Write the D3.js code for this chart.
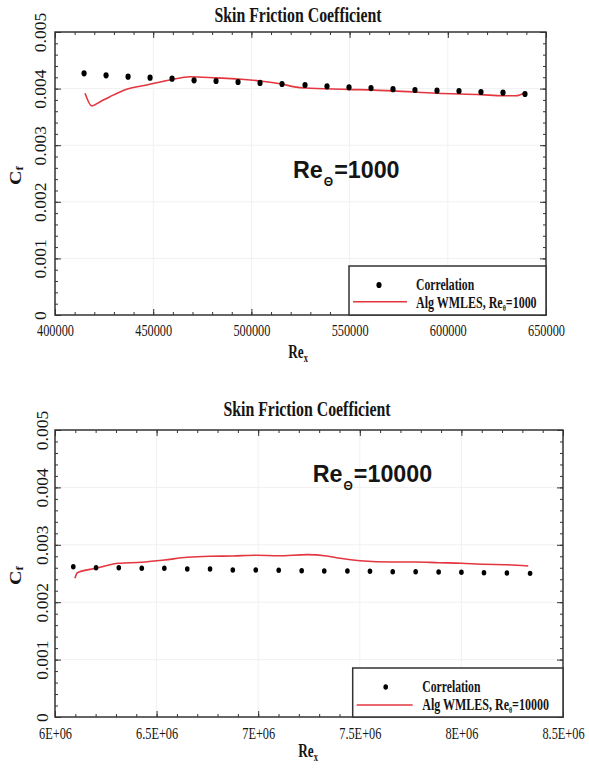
<!DOCTYPE html>
<html>
<head>
<meta charset="utf-8">
<script src="https://cdn.jsdelivr.net/npm/d3@7"></script>
<style>
  html, body { margin: 0; padding: 0; background: #fff; }
  svg { display: block; }
</style>
</head>
<body>
<script>
// ---- Re_theta = 1000 case ----
const corr1Rex = [414800, 426000, 437200, 448400, 459600, 470800, 482000, 493200, 504400, 515600,
                  527300, 538500, 549700, 560900, 572100, 583300, 594500, 605700, 616900, 628100, 639300];
const corr1Cf  = [0.00427, 0.004235, 0.00421, 0.004193, 0.004175, 0.004147, 0.004134, 0.004117, 0.0041, 0.004081,
                  0.004064, 0.00404, 0.004023, 0.00401, 0.00399, 0.003975, 0.003963, 0.003958, 0.00394, 0.003928, 0.003905];
const les1Rex  = [415300, 418700, 423000, 428000, 436500, 446700, 458600, 468700, 482000, 493200,
                  504400, 515600, 522000, 527300, 549700, 572100, 594500, 616900, 628100, 634700, 639300];
const les1Cf   = [0.003917, 0.003693, 0.003769, 0.003857, 0.003988, 0.004064, 0.004152, 0.00421, 0.00419, 0.00417,
                  0.004134, 0.00408, 0.00403, 0.00401, 0.003987, 0.00396, 0.003917, 0.003893, 0.003875, 0.003875, 0.003928];

// ---- Re_theta = 10000 case ----
const corr2Rex = [6.090e6, 6.202e6, 6.314e6, 6.427e6, 6.538e6, 6.651e6, 6.763e6, 6.875e6, 6.988e6, 7.101e6,
                  7.214e6, 7.325e6, 7.439e6, 7.550e6, 7.662e6, 7.775e6, 7.888e6, 8.000e6, 8.111e6, 8.224e6, 8.338e6];
const corr2Cf  = [0.002618, 0.002601, 0.002601, 0.002591, 0.002591, 0.002578, 0.002578, 0.002561, 0.002561, 0.002556,
                  0.002549, 0.002544, 0.002544, 0.002538, 0.002531, 0.002531, 0.002526, 0.002521, 0.002514, 0.002509, 0.002503];
const les2Rex  = [6.098e6, 6.110e6, 6.202e6, 6.314e6, 6.427e6, 6.538e6, 6.651e6, 6.763e6, 6.875e6, 6.988e6, 7.101e6,
                  7.239e6, 7.337e6, 7.403e6, 7.501e6, 7.662e6, 7.775e6, 7.888e6, 8.000e6, 8.111e6, 8.224e6, 8.329e6];
const les2Cf   = [0.002416, 0.002514, 0.002591, 0.002678, 0.002695, 0.002735, 0.002782, 0.0028, 0.002805, 0.002817, 0.00281,
                  0.002828, 0.002805, 0.002765, 0.002723, 0.0027, 0.0027, 0.002688, 0.002678, 0.00266, 0.002653, 0.002631];

// ---- axis ticks ----
const cfTicks   = [0, 0.001, 0.002, 0.003, 0.004, 0.005];
const cfLabels  = ["0", "0.001", "0.002", "0.003", "0.004", "0.005"];
const rex1Ticks = [400000, 450000, 500000, 550000, 600000, 650000];
const rex1Labels = ["400000", "450000", "500000", "550000", "600000", "650000"];
const rex2Ticks = [6e6, 6.5e6, 7e6, 7.5e6, 8e6, 8.5e6];
const rex2Labels = ["6E+06", "6.5E+06", "7E+06", "7.5E+06", "8E+06", "8.5E+06"];

const W = 589, H = 768;
const SERIF = "'Liberation Serif', 'Times New Roman', serif";
const SANS = "'Liberation Sans', Arial, sans-serif";
const RED = "#e3363f";
const INK = "#151515";
const FRAME = "#333";

const svg = d3.select("body").append("svg")
  .attr("width", W).attr("height", H)
  .style("font-family", SERIF);

// text helper: placed with translate/rotate/scale so narrow faces can be emulated
function label(parent, x, y, opts) {
  return parent.append("text")
    .attr("transform", `translate(${x},${y}) rotate(${opts.rotate || 0}) scale(${opts.sx || 1},${opts.sy || 1})`)
    .attr("text-anchor", opts.anchor || "start")
    .style("font-family", opts.family || SERIF)
    .style("font-size", opts.size + "px")
    .style("font-weight", opts.weight || "normal")
    .attr("fill", INK);
}

function drawPanel(p) {
  const x = d3.scaleLinear().domain(p.xDomain).range([p.left, p.right]);
  const y = d3.scaleLinear().domain([0, 0.005]).range([p.bottom, p.top]);
  const g = svg.append("g");

  // faint grid at the major ticks
  g.append("g").selectAll("line").data(p.xTicks.slice(1, -1)).join("line")
    .attr("x1", d => x(d)).attr("x2", d => x(d))
    .attr("y1", p.top).attr("y2", p.bottom)
    .attr("stroke", "#f1f1f1").attr("stroke-width", 1);
  g.append("g").selectAll("line").data(cfTicks.slice(1, -1)).join("line")
    .attr("x1", p.left).attr("x2", p.right)
    .attr("y1", d => y(d)).attr("y2", d => y(d))
    .attr("stroke", "#f1f1f1").attr("stroke-width", 1);

  const xMinor = x.ticks(25), yMinor = y.ticks(25);

  // ticks pointing into the plot on all four sides
  function ticks(axis, tx, ty) {
    const a = g.append("g").attr("transform", `translate(${tx},${ty})`).call(axis);
    a.select(".domain").remove();
    a.selectAll(".tick line").attr("stroke", FRAME).attr("stroke-width", 1);
    return a;
  }
  // minor ticks
  ticks(d3.axisBottom(x).tickValues(xMinor).tickSize(-3).tickFormat(""), 0, p.bottom);
  ticks(d3.axisTop(x).tickValues(xMinor).tickSize(-3).tickFormat(""), 0, p.top);
  ticks(d3.axisLeft(y).tickValues(yMinor).tickSize(-3).tickFormat(""), p.left, 0);
  ticks(d3.axisRight(y).tickValues(yMinor).tickSize(-3).tickFormat(""), p.right, 0);
  // major ticks
  const bx = ticks(d3.axisBottom(x).tickValues(p.xTicks).tickSize(-6)
    .tickFormat((d, i) => p.xLabels[i]), 0, p.bottom);
  ticks(d3.axisTop(x).tickValues(p.xTicks).tickSize(-6).tickFormat(""), 0, p.top);
  const ly = ticks(d3.axisLeft(y).tickValues(cfTicks).tickSize(-6)
    .tickFormat((d, i) => cfLabels[i]), p.left, 0);
  ticks(d3.axisRight(y).tickValues(cfTicks).tickSize(-6).tickFormat(""), p.right, 0);

  bx.selectAll(".tick text")
    .attr("y", p.xLabelY).attr("dy", null)
    .attr("transform", "scale(0.77,1)")
    .style("font-family", SERIF).style("font-size", "16px").attr("fill", INK);
  ly.selectAll(".tick text")
    .attr("x", 0).attr("y", -p.yLabelGap).attr("dy", null)
    .attr("text-anchor", "middle")
    .attr("transform", "rotate(-90)")
    .style("font-family", SERIF).style("font-size", "17.5px").attr("fill", INK);

  // frame
  g.append("rect")
    .attr("x", p.left).attr("y", p.top)
    .attr("width", p.right - p.left).attr("height", p.bottom - p.top)
    .attr("fill", "none").attr("stroke", FRAME).attr("stroke-width", 1.5);

  // LES curve
  const pts = p.lesX.map((v, i) => [v, p.lesY[i]]);
  g.append("path")
    .datum(pts)
    .attr("fill", "none").attr("stroke", RED).attr("stroke-width", 1.6)
    .attr("d", d3.line().x(d => x(d[0])).y(d => y(d[1])).curve(d3.curveMonotoneX));

  // correlation points
  g.append("g").selectAll("ellipse")
    .data(p.corrX.map((v, i) => [v, p.corrY[i]])).join("ellipse")
    .attr("cx", d => x(d[0])).attr("cy", d => y(d[1]))
    .attr("rx", p.dot[0]).attr("ry", p.dot[1])
    .attr("fill", "#000");

  // title
  label(g, p.titleX, p.titleY, { size: 21, weight: "bold", anchor: "middle", sx: 0.755 })
    .text("Skin Friction Coefficient");

  // axis titles
  const xt = label(g, p.xTitleX, p.xTitleY, { size: 19, weight: "bold", anchor: "middle", sx: 0.7 });
  xt.append("tspan").text("Re");
  xt.append("tspan").style("font-size", "12px").attr("dy", 4).text("x");
  const yt = label(g, 21, (p.top + p.bottom) / 2 + 2, { size: 20, weight: "bold", anchor: "middle", rotate: -90, sy: 0.8 });
  yt.append("tspan").text("C");
  yt.append("tspan").style("font-size", "13px").attr("dy", 3).text("f");

  // Reynolds number annotation
  const an = label(g, p.annX, p.annY, { size: 23.3, weight: "bold", family: SANS });
  an.append("tspan").text("Re");
  an.append("tspan").style("font-size", "12px").attr("dy", 8).attr("dx", 1).text("Θ");
  an.append("tspan").attr("dy", -8).attr("dx", 1).text("=" + p.reTheta);

  // legend
  const L = p.legend;
  const lg = g.append("g");
  lg.append("rect")
    .attr("x", L.x).attr("y", L.y)
    .attr("width", p.right - L.x).attr("height", p.bottom - L.y)
    .attr("fill", "#fff").attr("stroke", FRAME).attr("stroke-width", 1.5);
  lg.append("ellipse").attr("cx", L.dotX).attr("cy", L.dotY)
    .attr("rx", p.dot[0]).attr("ry", p.dot[1]).attr("fill", "#000");
  lg.append("line")
    .attr("x1", L.lineX0).attr("x2", L.lineX1).attr("y1", L.lineY).attr("y2", L.lineY)
    .attr("stroke", RED).attr("stroke-width", 1.6);
  label(lg, L.textX, L.row1, { size: 16, weight: "bold", sx: 0.73 }).text("Correlation");
  const t2 = label(lg, L.textX, L.row2, { size: 16, weight: "bold", sx: 0.75 });
  t2.append("tspan").text("Alg WMLES, Re");
  t2.append("tspan").style("font-size", "8px").attr("dy", 3).text("θ");
  t2.append("tspan").attr("dy", -3).text("=" + p.reTheta);
}

drawPanel({
  left: 55, right: 546, top: 32, bottom: 315,
  xDomain: [400000, 650000], xTicks: rex1Ticks, xLabels: rex1Labels,
  xLabelY: 21.5, yLabelGap: 9,
  corrX: corr1Rex, corrY: corr1Cf, lesX: les1Rex, lesY: les1Cf,
  dot: [2.6, 3.1],
  titleX: 298, titleY: 21.5,
  xTitleX: 298, xTitleY: 358,
  annX: 293, annY: 178.3, reTheta: "1000",
  legend: { x: 349, y: 266, dotX: 379, dotY: 285, lineX0: 353, lineX1: 407, lineY: 301.7,
            textX: 416, row1: 290, row2: 308.3 }
});

drawPanel({
  left: 55, right: 563, top: 430, bottom: 717,
  xDomain: [6e6, 8.5e6], xTicks: rex2Ticks, xLabels: rex2Labels,
  xLabelY: 22, yLabelGap: 7,
  corrX: corr2Rex, corrY: corr2Cf, lesX: les2Rex, lesY: les2Cf,
  dot: [2.3, 2.7],
  titleX: 307, titleY: 416,
  xTitleX: 308, xTitleY: 756.7,
  annX: 312.7, annY: 481.7, reTheta: "10000",
  legend: { x: 352.7, y: 668, dotX: 385.7, dotY: 687, lineX0: 356.7, lineX1: 412.7, lineY: 705,
            textX: 422.3, row1: 692.3, row2: 710 }
});
</script>
</body>
</html>
